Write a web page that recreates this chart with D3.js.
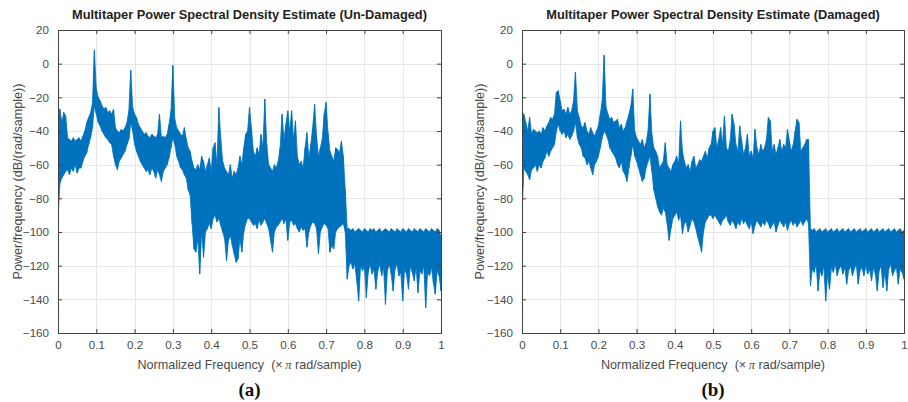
<!DOCTYPE html>
<html><head><meta charset="utf-8">
<script src="https://cdn.jsdelivr.net/npm/d3@7"></script>
<style>
html,body{margin:0;padding:0;background:#fff;}
svg{display:block;font-family:"Liberation Sans",Arial,sans-serif;}
</style></head>
<body><svg id="chart" width="908" height="402"></svg>
<script>
// frequency bin width (x pi rad/sample)
const binStep = 0.005;
const freqTicks = [0,0.1,0.2,0.3,0.4,0.5,0.6,0.7,0.8,0.9,1];
const dbTicks = [20,0,-20,-40,-60,-80,-100,-120,-140,-160];
const titles = ["Multitaper Power Spectral Density Estimate (Un-Damaged)","Multitaper Power Spectral Density Estimate (Damaged)"];
const panelTags = ["(a)","(b)"];

// Un-Damaged: upper / lower envelope of PSD per bin (dB/(rad/sample))
const hiUndamaged = [-28,-27,-35,-29,-31,-44,-45,-46,-44,-46,-45,-44,-46,-43,-40,-35,-32,-29,-24,8,
-15,-20,-22,-25,-27,-26,-29,-28,-30,-27,-38,-40,-41,-39,-40,-38,-35,-28,-4,-26,
-30,-32,-36,-38,-40,-42,-41,-43,-44,-42,-43,-44,-42,-30,-44,-43,-44,-42,-36,-28,
-1,-33,-38,-40,-42,-43,-38,-45,-50,-52,-58,-62,-63,-60,-63,-55,-58,-64,-60,-56,
-64,-50,-47,-60,-26,-45,-58,-62,-64,-66,-60,-68,-64,-66,-62,-55,-60,-50,-42,-40,
-26,-38,-52,-55,-50,-54,-42,-50,-21,-48,-60,-62,-64,-60,-62,-58,-50,-30,-45,-36,
-28,-40,-28,-45,-34,-55,-60,-58,-62,-50,-41,-56,-48,-38,-24,-43,-55,-50,-45,-30,
-23,-41,-52,-55,-58,-50,-51,-53,-46,-55,-75,-98,-98,-99,-98,-100,-99,-98,-99,-100,
-98,-99,-100,-98,-99,-98,-100,-99,-98,-100,-99,-98,-99,-100,-98,-99,-100,-98,-99,-100,
-98,-99,-100,-98,-99,-100,-98,-99,-100,-98,-99,-100,-98,-99,-100,-98,-99,-100,-98,-99,-103];
const loUndamaged = [-92,-71,-68,-66,-64,-63,-66,-62,-64,-60,-65,-62,-62,-58,-55,-53,-48,-44,-38,-25,
-30,-35,-37,-40,-42,-44,-45,-47,-48,-55,-60,-63,-58,-56,-54,-52,-48,-45,-35,-40,
-48,-52,-55,-58,-60,-62,-64,-63,-66,-62,-64,-68,-63,-66,-70,-64,-62,-60,-56,-50,
-44,-48,-55,-58,-62,-63,-66,-68,-75,-78,-95,-110,-112,-104,-125,-100,-115,-100,-98,-95,
-98,-92,-90,-94,-92,-96,-100,-104,-117,-105,-102,-108,-113,-118,-116,-104,-112,-100,-95,-92,
-92,-94,-96,-95,-98,-93,-96,-94,-92,-95,-98,-105,-112,-100,-97,-96,-94,-92,-95,-92,
-105,-94,-93,-96,-95,-98,-100,-97,-99,-98,-109,-100,-96,-94,-95,-98,-113,-100,-97,-95,
-96,-98,-112,-108,-110,-100,-98,-97,-96,-95,-100,-128,-120,-118,-122,-119,-129,-141,-120,-123,
-121,-139,-124,-119,-125,-122,-134,-123,-119,-126,-121,-143,-123,-119,-125,-135,-122,-119,-126,-124,
-141,-122,-125,-134,-120,-124,-129,-121,-136,-123,-125,-120,-145,-124,-126,-121,-130,-137,-123,-126,-135];

// Damaged: upper / lower envelope of PSD per bin
const hiDamaged = [-29,-30,-35,-40,-32,-42,-39,-40,-41,-40,-42,-38,-40,-37,-35,-32,-33,-30,-17,-16,
-22,-28,-27,-30,-26,-30,-28,-22,-5,-28,-32,-37,-38,-35,-40,-42,-38,-41,-43,-40,
-37,-30,-22,5,-26,-30,-33,-32,-35,-34,-33,-38,-36,-40,-38,-34,-30,-25,-15,-40,
-44,-46,-48,-45,-50,-47,-40,-18,-42,-50,-52,-55,-62,-60,-58,-47,-60,-62,-64,-60,
-58,-55,-60,-34,-52,-58,-62,-60,-64,-58,-55,-62,-60,-57,-58,-55,-52,-56,-50,-48,
-40,-38,-50,-45,-38,-48,-31,-50,-52,-46,-30,-36,-48,-52,-37,-46,-54,-50,-42,-55,
-52,-56,-39,-50,-54,-48,-52,-50,-45,-32,-34,-52,-48,-54,-50,-45,-52,-48,-50,-39,
-46,-52,-48,-40,-33,-35,-52,-50,-48,-45,-45,-98,-99,-98,-100,-99,-98,-100,-99,-98,
-100,-99,-98,-100,-99,-98,-100,-99,-98,-100,-99,-98,-100,-99,-98,-100,-99,-98,-100,-99,
-98,-100,-99,-98,-100,-99,-98,-100,-99,-98,-100,-99,-98,-100,-99,-98,-100,-99,-98,-100,-99];
const loDamaged = [-90,-62,-64,-66,-69,-63,-62,-60,-64,-60,-62,-58,-56,-52,-55,-52,-50,-48,-40,-36,
-40,-42,-40,-44,-42,-45,-43,-40,-35,-44,-48,-50,-55,-56,-60,-58,-62,-66,-60,-58,
-55,-50,-44,-40,-42,-45,-50,-52,-54,-56,-60,-62,-58,-64,-66,-70,-62,-55,-48,-55,
-58,-62,-66,-70,-68,-62,-58,-55,-64,-75,-80,-85,-88,-90,-86,-88,-95,-105,-98,-92,
-90,-88,-93,-90,-101,-95,-94,-100,-96,-92,-94,-98,-103,-107,-112,-100,-94,-92,-90,-90,
-92,-90,-92,-94,-96,-93,-92,-90,-94,-96,-93,-95,-98,-94,-96,-92,-95,-93,-96,-98,
-94,-101,-96,-93,-95,-97,-94,-96,-93,-95,-98,-96,-94,-100,-96,-93,-95,-97,-94,-99,
-95,-93,-96,-94,-97,-95,-93,-96,-94,-92,-95,-132,-122,-124,-119,-135,-123,-126,-120,-141,
-125,-134,-121,-124,-119,-126,-122,-120,-125,-121,-131,-123,-120,-126,-122,-119,-131,-123,-121,-126,
-120,-125,-122,-129,-121,-125,-135,-123,-120,-133,-124,-135,-122,-119,-126,-123,-121,-131,-122,-124,-128];

const panels = [
  {x0:58, x1:441, hi:hiUndamaged, lo:loUndamaged, title:titles[0], tag:panelTags[0], ylabX:17},
  {x0:522, x1:904, hi:hiDamaged, lo:loDamaged, title:titles[1], tag:panelTags[1], ylabX:479}
];
const yTop = 30, yBot = 333;
const svg = d3.select("#chart");
const axisCol = "#404040", tickTextCol = "#4a4a4a", blue = "#0072BD";

panels.forEach((p, k) => {
  const x = d3.scaleLinear().domain([0,1]).range([p.x0, p.x1]);
  const y = d3.scaleLinear().domain([-160,20]).range([yBot, yTop]);
  const g = svg.append("g");
  const w = p.x1 - p.x0, h = yBot - yTop;

  // grid
  g.append("g").selectAll("line").data(freqTicks).join("line")
    .attr("x1", d => Math.round(x(d))+0.5).attr("x2", d => Math.round(x(d))+0.5)
    .attr("y1", yTop).attr("y2", yBot).attr("stroke", "#e6e6e6").attr("stroke-width", 1);
  g.append("g").selectAll("line").data(dbTicks).join("line")
    .attr("y1", d => Math.round(y(d))+0.5).attr("y2", d => Math.round(y(d))+0.5)
    .attr("x1", p.x0).attr("x2", p.x1).attr("stroke", "#e6e6e6").attr("stroke-width", 1);

  // data
  const clipId = "clip" + k;
  svg.append("clipPath").attr("id", clipId).append("rect")
    .attr("x", p.x0).attr("y", yTop).attr("width", w).attr("height", h);
  const rows = p.hi.map((v, i) => ({f: i * binStep, hi: v, lo: p.lo[i]}));
  const area = d3.area().x(d => x(d.f)).y0(d => y(d.lo)).y1(d => y(d.hi));
  g.append("path").attr("d", area(rows)).attr("fill", blue).attr("stroke", blue)
    .attr("stroke-width", 0.8).attr("stroke-linejoin", "miter")
    .attr("clip-path", `url(#${clipId})`);
  // start of trace: vertical drop at f=0
  const pts = [];
  rows.forEach((r, i) => { pts.push([r.f, r.hi]); pts.push([r.f, r.lo]); });
  const line = d3.line().x(d => x(d[0])).y(d => y(d[1]));
  g.append("path").attr("d", line(pts)).attr("fill", "none")
    .attr("stroke", blue).attr("stroke-width", 0.6).attr("clip-path", `url(#${clipId})`);

  // axes (inward ticks on all sides)
  const fmt = d => (d < 0 ? "\u2212" + Math.abs(d) : String(d));
  const ax = g.append("g").attr("transform", `translate(0,${yBot})`)
    .call(d3.axisBottom(x).tickValues(freqTicks).tickSize(-4).tickPadding(8).tickFormat(d => String(d)));
  const axT = g.append("g").attr("transform", `translate(0,${yTop})`)
    .call(d3.axisTop(x).tickValues(freqTicks).tickSize(-4).tickFormat(""));
  const ay = g.append("g").attr("transform", `translate(${p.x0},0)`)
    .call(d3.axisLeft(y).tickValues(dbTicks).tickSize(-4).tickPadding(9).tickFormat(fmt));
  const ayR = g.append("g").attr("transform", `translate(${p.x1},0)`)
    .call(d3.axisRight(y).tickValues(dbTicks).tickSize(-4).tickFormat(""));
  [ax, axT, ay, ayR].forEach(a => {
    a.select(".domain").attr("stroke", axisCol).attr("stroke-width", 1);
    a.selectAll(".tick line").attr("stroke", axisCol);
    a.selectAll("text").attr("fill", tickTextCol).style("font-size", "11.6px")
      .style("font-family", "'Liberation Sans',Arial,sans-serif");
  });
  ax.selectAll(".tick").filter(d => d === 0 || d === 1).select("line").remove();
  axT.selectAll(".tick").filter(d => d === 0 || d === 1).select("line").remove();

  // title
  g.append("text").attr("x", (p.x0+p.x1)/2).attr("y", 18.5).attr("text-anchor", "middle")
    .style("font-size", "12.8px").style("font-weight", "bold").attr("fill", "#222").text(p.title);

  // x label
  const xl = g.append("text").attr("x", (p.x0+p.x1)/2).attr("y", 369).attr("text-anchor", "middle")
    .attr("xml:space", "preserve").style("white-space", "pre")
    .style("font-size", "12.6px").attr("fill", tickTextCol);
  xl.append("tspan").text("Normalized Frequency  (\u00d7\u2009");
  xl.append("tspan").style("font-style", "italic").style("font-family", "'Liberation Serif',serif").text("\u03c0");
  xl.append("tspan").text(" rad/sample)");

  // y label
  g.append("text").attr("transform", `translate(${p.ylabX + 4.5},${(yTop+yBot)/2}) rotate(-90)`)
    .attr("text-anchor", "middle").style("font-size", "12.6px").attr("fill", tickTextCol)
    .text("Power/frequency (dB/(rad/sample))");

  // panel tag
  g.append("text").attr("x", (p.x0+p.x1)/2).attr("y", 396).attr("text-anchor", "middle")
    .style("font-family", "'Liberation Serif','Times New Roman',serif").style("font-weight", "bold")
    .style("font-size", "19px").attr("fill", "#111").text(p.tag);
});
</script></body></html>
